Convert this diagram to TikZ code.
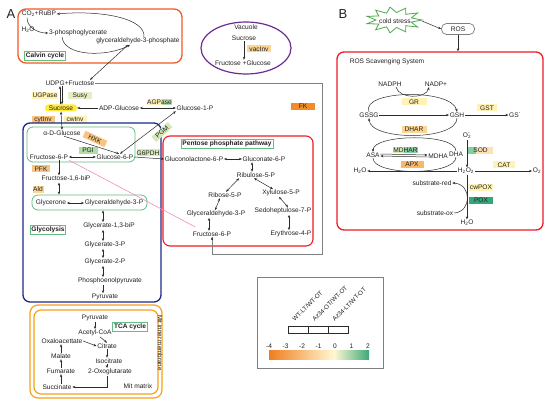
\documentclass[tikz,border=0pt]{standalone}
\usepackage{fontspec}
\setmainfont{Liberation Sans}
\usetikzlibrary{arrows.meta,shapes.geometric,calc}
\definecolor{txt}{HTML}{231F20}
\definecolor{lin}{HTML}{2B2B2B}
\definecolor{calvc}{HTML}{F15A22}
\definecolor{vacc}{HTML}{6A2C91}
\definecolor{bluec}{HTML}{1B2A8A}
\definecolor{redc}{HTML}{EE1C25}
\definecolor{grn}{HTML}{62BD84}
\definecolor{tcac}{HTML}{F7A21B}
\definecolor{grayc}{HTML}{7F7F7F}
\definecolor{pinkc}{HTML}{F28DC0}
\definecolor{sucy}{HTML}{FFEB3B}
\definecolor{pyel}{HTML}{FFF2B5}
\definecolor{pygr}{HTML}{E6EFC4}
\definecolor{lor}{HTML}{F9C47E}
\definecolor{lor2}{HTML}{FBD592}
\definecolor{lgr}{HTML}{B6DCA6}
\definecolor{lgr2}{HTML}{D5E9B9}
\definecolor{fkc}{HTML}{F28C28}
\definecolor{apxc}{HTML}{F9B868}
\definecolor{mgr}{HTML}{86CDA0}
\definecolor{poxc}{HTML}{35A67A}
\definecolor{gradO}{HTML}{F07E1E}
\definecolor{gradY}{HTML}{FFF8D2}
\definecolor{gradG}{HTML}{3DA878}
\definecolor{starg}{HTML}{4FA84F}
\newcommand\myft{\fontsize{6.6}{7.5}\selectfont}
\newcommand\lgft{\fontsize{6.2}{7}\selectfont}
\newcommand\bigft{\fontsize{13}{14}\selectfont}
\tikzset{
 tx/.style={font=\myft, text=txt, inner sep=0.6pt},
 enz/.style={fill=#1, font=\myft, text=txt, inner sep=0pt, minimum height=7pt},
 lab/.style={draw=grn, line width=0.7pt, font=\myft\bfseries, text=txt, inner sep=1.3pt, fill=white},
 arr/.style={draw=lin, line width=0.5pt, -{Stealth[length=3pt,width=2.4pt]}},
 darr/.style={draw=lin, line width=0.5pt, {Stealth[length=3pt,width=2.4pt]}-{Stealth[length=3pt,width=2.4pt]}},
 gbx/.style={draw=grn, line width=0.8pt, rounded corners=6pt, inner sep=0pt},
}
\begin{document}
\begin{tikzpicture}[x=1pt,y=-1pt]
\useasboundingbox (0,0) rectangle (550,404);
\fill[white] (0,0) rectangle (550,404);

% ================= Panel A =================
\node[font=\bigft, text=txt, inner sep=0pt] (labA) at (11,14) {A};

% Calvin cycle
\draw[calvc, line width=1.3pt, rounded corners=8pt] (18,9) rectangle (182,63);
\node[tx] (co2) at (39,14) {CO\textsubscript{2}+RuBP};
\node[tx] (h2o) at (28,30) {H\textsubscript{2}O};
\node[tx] (pga) at (78,33) {3-phosphoglycerate};
\node[tx] (gap) at (138,41) {glyceraldehyde-3-phosphate};
\node[lab] (calvin) at (45,55.5) {Calvin cycle};
\draw[arr] ([xshift=6pt]gap.north) .. controls (146,18) and (100,10) .. (co2.east);
\draw[arr] ([xshift=-12pt]co2.south) .. controls +(0,10) and (38,33) .. (pga.west);
\draw[arr] ([xshift=-16pt]pga.south) .. controls (64,57) and (108,57) .. ([xshift=-8pt]gap.south);

% Vacuole
\draw[vacc, line width=1.2pt] (246,48) ellipse [x radius=45, y radius=26];
\node[tx] (vacuole) at (246,27) {Vacuole};
\node[tx] (sucv) at (244,38) {Sucrose};
\node[enz=lor2, minimum width=24pt] (vacinv) at (259,49) {vacInv};
\node[tx] (fgv) at (243,63) {Fructose +Glucose};
\draw[arr] (sucv.south) -- (sucv.south |- fgv.north);

% sucrose metabolism
\node[tx] (udpg) at (70,83) {UDPG+Fructose};
\draw[darr] ([xshift=-10pt]gap.south) -- ([xshift=20pt]udpg.north);
\node[enz=pyel, minimum width=26pt] (ugpase) at (45,95.5) {UGPase};
\node[enz=pygr, minimum width=24pt] (susy) at (80,95.5) {Susy};
\node[tx, fill=sucy, rounded corners=3pt, minimum width=32pt, minimum height=7pt] (suc) at (61,108) {Sucrose};
\node[tx] (adpg) at (119,108) {ADP-Glucose};
\fill[pyel] (147,99) rectangle (162,105.5);
\fill[lgr] (162,99) rectangle (172,105.5);
\node[tx] (agpase) at (159.5,102.3) {AGPase};
\node[tx] (g1p) at (195,108) {Glucose-1-P};
\node[enz=lor, minimum width=23pt] (cytinv) at (43,119.5) {cytInv};
\node[enz=pyel, minimum width=23pt] (cwinv) at (75,119.5) {cwInv};
\node[enz=fkc, minimum width=24pt] (fk) at (303,106.5) {FK};
\draw[arr] ([xshift=-1pt]suc.north) -- ([xshift=-10pt]udpg.south);
\draw[arr] ([xshift=-8pt]udpg.south) -- ([xshift=1pt]suc.north);
\draw[arr] (adpg.west) -- (suc.east);
\draw[darr] (adpg.east) -- (g1p.west);

% grey frame path
\coordinate (gc1) at (322,83);
\coordinate (gc2) at (322,254);

% blue glycolysis box
\draw[bluec, line width=1.3pt, rounded corners=7pt] (23,123) rectangle (161,302);
\node[gbx, minimum width=108pt, minimum height=35pt] (hexbox) at (81,144.5) {};
\node[tx] (adg) at (62,133) {α-D-Glucose};
\node[enz=lor, minimum width=24pt, rotate=-25] (hxk) at (95,139) {HXK};
\node[tx] (f6p) at (49,157) {Fructose-6-P};
\node[tx] (g6p) at (115,157) {Glucose-6-P};
\node[enz=lgr, minimum width=19pt] (pgi) at (88,150.5) {PGI};
\node[enz=lgr2, minimum width=23pt] (g6pdh) at (148,153) {G6PDH};
\node[enz=lgr2, minimum width=22pt, rotate=42] (pgm) at (162,132) {PGM};
\draw[darr] (suc.south) -- (adg.north);
\draw[darr] (g1p.south west) -- ([xshift=5pt]g6p.north);
\draw[arr] ([xshift=2pt]adg.south) -- ([xshift=4pt]g6p.north);
\draw[darr] (f6p.east) -- (g6p.west);

\node[enz=lor, minimum width=18pt] (pfk) at (41,169) {PFK};
\node[tx] (f16bp) at (66,179) {Fructose-1,6-biP};
\node[enz=lor2, minimum width=11pt] (ald) at (38,189.5) {Ald};
\coordinate (x59) at (59,0);
\draw[arr] (x59 |- f6p.south) -- (x59 |- f16bp.north);
\node[gbx, minimum width=115pt, minimum height=15pt] (trio) at (89.5,202.5) {};
\draw[darr] (x59 |- f16bp.south) -- (x59 |- trio.north);
\node[tx] (glycerone) at (51,203) {Glycerone};
\node[tx] (gap2) at (114,203) {Glyceraldehyde-3-P};
\draw[darr] (glycerone.east) -- (gap2.west);
\node[lab] (glycolysis) at (48,229.5) {Glycolysis};
\node[tx] (gbp) at (109,226) {Glycerate-1,3-biP};
\node[tx] (g3p) at (105,245) {Glycerate-3-P};
\node[tx] (g2p) at (105,262) {Glycerate-2-P};
\node[tx] (pep) at (110,281) {Phosphoenolpyruvate};
\node[tx] (pyr) at (105,297) {Pyruvate};
\coordinate (x103) at (103,0);
\draw[darr] (x103 |- trio.south) -- (x103 |- gbp.north);
\draw[darr] (x103 |- gbp.south) -- (x103 |- g3p.north);
\draw[darr] (x103 |- g3p.south) -- (x103 |- g2p.north);
\draw[darr] (x103 |- g2p.south) -- (x103 |- pep.north);
\draw[arr] (x103 |- pep.south) -- (x103 |- pyr.north);

% TCA
\draw[tcac, line width=1.2pt, rounded corners=8pt] (30,305) rectangle (162,398);
\draw[tcac, line width=1.2pt, rounded corners=7pt] (34,310) rectangle (158,394);
\node[tx, font=\lgft, rotate=-90] (mim) at (160,343) {Mit inner membrane};
\node[lab] (tca) at (130,326.5) {TCA cycle};
\node[tx] (pyr2) at (95,318) {Pyruvate};
\node[tx] (acoa) at (95,333) {Acetyl-CoA};
\node[tx] (oaa) at (62,341) {Oxaloacettate};
\node[tx] (cit) at (107,346) {Citrate};
\node[tx] (iso) at (109,361) {Isocitrate};
\node[tx] (oxo) at (110,372) {2-Oxoglutarate};
\node[tx] (suc2) at (57,387) {Succinate};
\node[tx] (fum) at (61,371) {Fumarate};
\node[tx] (mal) at (61,356) {Malate};
\node[tx] (mm) at (138,386) {Mit matrix};
\draw[arr] (pyr2.south) -- (acoa.north);
\draw[arr] ([xshift=5pt]acoa.south) -- (cit.north);
\draw[arr] (oaa.east) -- (cit.west);
\coordinate (x107) at (107,0);
\draw[arr] (x107 |- cit.south) -- (x107 |- iso.north);
\draw[arr] (x107 |- iso.south) -- (x107 |- oxo.north);
\draw[arr] (x107 |- oxo.south) |- (suc2.east);
\coordinate (x61) at (61,0);
\draw[arr] (x61 |- suc2.north) -- (x61 |- fum.south);
\draw[arr] (x61 |- fum.north) -- (x61 |- mal.south);
\draw[arr] (x61 |- mal.north) -- (x61 |- oaa.south);

% PPP
\draw[redc, line width=1.1pt, rounded corners=7pt] (163,136) rectangle (313,246);
\node[lab] (ppp) at (227,143.5) {Pentose phosphate pathway};
\node[tx] (gl6p) at (194,159) {Gluconolactone-6-P};
\node[tx] (gn6p) at (264,159) {Gluconate-6-P};
\node[tx] (ru5p) at (256,175) {Ribulose-5-P};
\node[tx] (r5p) at (225,195) {Ribose-5-P};
\node[tx] (x5p) at (281,193) {Xylulose-5-P};
\node[tx] (gap3) at (216,214) {Glyceraldehyde-3-P};
\node[tx] (s7p) at (283,211) {Sedoheptulose-7-P};
\node[tx] (f6pb) at (212,234) {Fructose-6-P};
\node[tx] (e4p) at (291,234) {Erythrose-4-P};
\draw[arr] (g6p.east) -- (gl6p.west);
\draw[darr] (gl6p.east) -- (gn6p.west);
\coordinate (x252) at (252,0);
\draw[darr] (x252 |- gn6p.south) -- (x252 |- ru5p.north);
\draw[darr] ([xshift=3pt]ru5p.south west) -- ([xshift=1pt]r5p.north);
\draw[darr] ([xshift=-2pt]ru5p.south) -- ([xshift=-8pt]x5p.north);
\draw[darr] ([xshift=-5pt]r5p.south) -- ([xshift=-1pt]gap3.north);
\draw[darr] ([xshift=-2pt]x5p.south) -- ([xshift=5pt]s7p.north);
\coordinate (x209) at (209,0);
\draw[darr] (x209 |- gap3.south) -- (x209 |- f6pb.north);
\coordinate (x289) at (289,0);
\draw[darr] (x289 |- s7p.south) -- (x289 |- e4p.north);

% grey path and pink line
\draw[grayc, line width=0.6pt] (udpg.east) -- (gc1) -- (gc2) -| (f6pb.south);
\draw[arr, draw=lin] ([yshift=-3pt]f6pb.south) -- (f6pb.south);
\draw[pinkc, line width=0.6pt] (f6p.south east) -- ([xshift=3pt,yshift=4pt]f6pb.north west);

% Legend
\draw[grayc, line width=0.6pt] (257,277) rectangle (383,368);
\node[draw=lin, line width=0.5pt, minimum width=20pt, minimum height=7pt, inner sep=0pt] (lb1) at (298,329.5) {};
\node[draw=lin, line width=0.5pt, minimum width=20pt, minimum height=7pt, inner sep=0pt] (lb2) at (318,329.5) {};
\node[draw=lin, line width=0.5pt, minimum width=20pt, minimum height=7pt, inner sep=0pt] (lb3) at (338,329.5) {};
\node[tx, font=\lgft, anchor=south west, rotate=45] (ll1) at ([xshift=-3pt,yshift=3pt]lb1.north) {WT-LT/WT-OT};
\node[tx, font=\lgft, anchor=south west, rotate=45] (ll2) at ([xshift=-3pt,yshift=3pt]lb2.north) {Az34-OT/WT-OT};
\node[tx, font=\lgft, anchor=south west, rotate=45] (ll3) at ([xshift=-3pt,yshift=3pt]lb3.north) {Az34-LT/WT-OT};
\foreach \v [count=\i from 0] in {-4,-3,-2,-1,0,1,2}
  \node[tx] (num\i) at ({269+16.5*\i},346) {\v};
\shade[left color=gradO, right color=gradY] (269,350) rectangle (334,359);
\shade[left color=gradY, right color=gradG] (334,350) rectangle (369,359);

% ================= Panel B =================
\node[font=\bigft, text=txt, inner sep=0pt] (labB) at (343,14) {B};
\draw[starg, line width=0.8pt, fill=white] (422,20)
  \foreach \k in {1,...,21} { -- ({394+ifthenelse(mod(\k,2)==0,28,18)*cos(\k*360/22)}, {20+ifthenelse(mod(\k,2)==0,13,7.5)*sin(\k*360/22)}) } -- cycle;
\node[tx] (cs) at (395,21) {cold stress};
\node[tx, draw=grayc, line width=0.7pt, rounded corners=5pt, minimum width=33pt, minimum height=11pt] (ros) at (458,29) {ROS};
\draw[arr] ([xshift=27pt]cs.center) -- (ros.west);
\node[draw=redc, line width=1.3pt, rounded corners=7pt, minimum width=206pt, minimum height=178pt, inner sep=0pt] (rosbox) at (440,141) {};
\draw[arr] (ros.south) -- (ros.south |- rosbox.north);
\node[tx] (rss) at (387,62) {ROS Scavenging System};

\node[tx] (nadph) at (390,84) {NADPH};
\node[tx] (nadpp) at (436,84) {NADP+};
\draw[arr] ([xshift=6pt]nadph.south) .. controls +(3,12) and +(-3,12) .. ([xshift=-7pt]nadpp.south);
\node[enz=pyel, minimum width=25pt] (gr) at (414,102) {GR};
\node[tx] (gssg) at (369,115) {GSSG};
\node[tx] (gsh) at (457,115) {GSH};
\node[enz=pyel, minimum width=20pt] (gst) at (487,108) {GST};
\node[tx] (gs) at (515,115) {GS\textsuperscript{-}};
\draw[arr] (gssg.east) -- (gsh.west);
\draw[arr] (gsh.east) -- (gs.west);
\draw[arr] (gssg.north) .. controls (360,90) and (452,88) .. (gsh.north);
\draw[arr] (gsh.south) .. controls (457,141) and (370,141) .. (gssg.south);
\node[enz=lor2, minimum width=25pt] (dhar) at (414,129.5) {DHAR};

\node[tx] (asa) at (373,155) {ASA};
\node[tx] (mdha) at (438,156) {MDHA};
\node[tx] (dha) at (456,154) {DHA};
\fill[lgr2] (393,147) rectangle (404,153.5);
\fill[mgr] (404,147) rectangle (418,153.5);
\node[tx] (mdhar) at (405.5,150.3) {MDHAR};
\node[enz=apxc, minimum width=23pt] (apx) at (412,164.5) {APX};
\draw[arr] (dha.north) .. controls (456,133) and (373,134) .. (asa.north);
\draw[draw=lin, line width=0.5pt] (dha.south) .. controls (456,176) and (373,176) .. (asa.south);
\draw[arr] ([yshift=1pt]asa.east) -- ([yshift=1pt]mdha.west);
\draw[arr] ([yshift=-1pt]mdha.west) -- ([yshift=-1pt]asa.east);

\node[tx] (o2m) at (467,136) {O\rlap{\textsuperscript{-}}\textsubscript{2}};
\node[tx] (h2o2) at (466,171) {H\textsubscript{2}O\textsubscript{2}};
\coordinate (x467) at (467,0);
\draw[arr] (x467 |- o2m.south) -- (x467 |- h2o2.north);
\fill[mgr] (468,147) rectangle (476,154);
\fill[lor2!70!white] (476,147) rectangle (493,154);
\node[tx] (sod) at (480.5,150.5) {SOD};
\node[enz=pyel, minimum width=22pt] (cat) at (504,165) {CAT};
\node[tx] (o2r) at (537,171) {O\textsubscript{2}};
\node[tx] (h2ol) at (360,171) {H\textsubscript{2}O};
\draw[arr] (h2o2.east) -- (o2r.west);
\draw[arr] (h2o2.west) -- (h2ol.east);
\node[tx] (subr) at (432,183) {substrate-red};
\node[tx] (subo) at (435,213) {substrate-ox};
\node[enz=pyel, minimum width=24pt] (cwpox) at (481,187.5) {cwPOX};
\node[enz=poxc, minimum width=24pt] (pox) at (481,200.5) {POX};
\node[tx] (h2ob) at (467,223) {H\textsubscript{2}O};
\draw[arr] (x467 |- h2o2.south) -- (x467 |- h2ob.north);
\draw[arr] (subo.east) .. controls (472,212) and (472,184) .. (subr.east);
\end{tikzpicture}
\end{document}
